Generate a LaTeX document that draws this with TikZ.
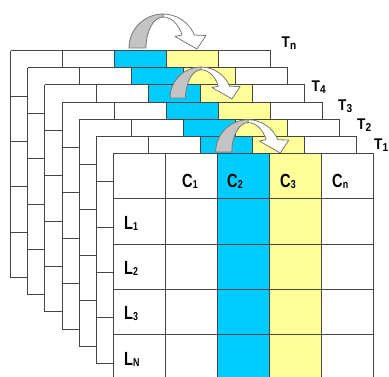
\documentclass[tikz,border=0pt]{standalone}
\usepackage{fontspec}
\setmainfont{Liberation Sans}

\definecolor{colblue}{RGB}{0,204,255}
\definecolor{colyellow}{RGB}{255,255,153}
\definecolor{gridline}{RGB}{70,70,70}
\definecolor{archgray}{RGB}{196,196,196}
\definecolor{archedge}{RGB}{120,120,120}

\tikzset{
  gridpen/.style={draw=gridline, line width=1pt},
  archpen/.style={draw=archedge, line width=0.8pt, line join=round},
  celltext/.style={inner sep=0pt, anchor=base west,
    font=\bfseries\fontsize{19}{19}\selectfont},
  layertext/.style={inner sep=0pt, anchor=base west,
    font=\bfseries\fontsize{15.5}{15.5}\selectfont},
}

% label with a subscript, squeezed horizontally
\newcommand\celllabel[2]{\scalebox{0.77}[1]{#1\raisebox{-1pt}{\fontsize{11.5}{11.5}\selectfont #2}}}
\newcommand\layerlabel[2]{\scalebox{0.88}[1]{#1\raisebox{-2.5pt}{\fontsize{11.5}{11.5}\selectfont #2}}}

% one table (5 x 5 cells), k layers behind the front one
\newcommand\tablelayer[1]{%
  \pgfmathsetmacro\lx{113.3-17.1*#1}%
  \pgfmathsetmacro\ly{153.3-17.1*#1}%
  \begin{scope}[shift={(\lx,\ly)}]
    \fill[white] (0,0) rectangle (260,227);
    \fill[colblue] (104,0) rectangle (156,227);
    \fill[colyellow] (156,0) rectangle (208,227);
    \foreach \i in {0,...,5} \draw[gridpen] (52*\i,0) -- (52*\i,227);
    \foreach \j in {0,...,5} \draw[gridpen] (0,45.4*\j) -- (260,45.4*\j);
  \end{scope}}

% curved arrow from one column to the next: centre of the arch, scale
\newcommand\archarrow[3]{%
  \begin{scope}[shift={(#1,#2)}, yscale=-1, scale=#3]
    \filldraw[archpen, fill=white]
      (0,34) arc[start angle=90, end angle=22.5, radius=34]
      -- (43,12.5) -- (34,-1) -- (12,11.5) -- (19.07,13)
      arc[start angle=24.8, end angle=90, x radius=21, y radius=31]
      -- cycle;
    \filldraw[archpen, fill=archgray]
      (-34,0) arc[start angle=180, end angle=90, radius=34]
      -- (0,31) arc[start angle=90, end angle=180, x radius=17, y radius=31]
      -- cycle;
  \end{scope}}

\begin{document}
\begin{tikzpicture}[x=1pt, y=-1pt]
  \useasboundingbox (0,0) rectangle (389,376);
  \clip (0,0) rectangle (389,376);

  % stacked tables, from the back to the front
  \tablelayer{6}
  \archarrow{163}{48}{1}
  \tablelayer{5}
  \tablelayer{4}
  \archarrow{201}{98}{0.91}
  \tablelayer{3}
  \tablelayer{2}
  \tablelayer{1}
  \archarrow{248}{152}{0.95}
  \tablelayer{0}

  % column headings
  \node[celltext] (c1) at (182,187) {\celllabel{C}{1}};
  \node[celltext] (c2) at (227,187) {\celllabel{C}{2}};
  \node[celltext] (c3) at (280,187) {\celllabel{C}{3}};
  \node[celltext] (cn) at (332,187) {\celllabel{C}{n}};

  % row headings
  \node[celltext] (l1) at (124,229) {\celllabel{L}{1}};
  \node[celltext] (l2) at (124,274.4) {\celllabel{L}{2}};
  \node[celltext] (l3) at (124,319.8) {\celllabel{L}{3}};
  \node[celltext] (ln) at (124,365.2) {\celllabel{L}{N}};

  % layer names
  \node[layertext] (tn) at (281.5,47) {\layerlabel{T}{n}};
  \node[layertext] (t4) at (311.5,91) {\layerlabel{T}{4}};
  \node[layertext] (t3) at (338,110) {\layerlabel{T}{3}};
  \node[layertext] (t2) at (357,129) {\layerlabel{T}{2}};
  \node[layertext] (t1) at (374,149) {\layerlabel{T}{1}};
\end{tikzpicture}
\end{document}
